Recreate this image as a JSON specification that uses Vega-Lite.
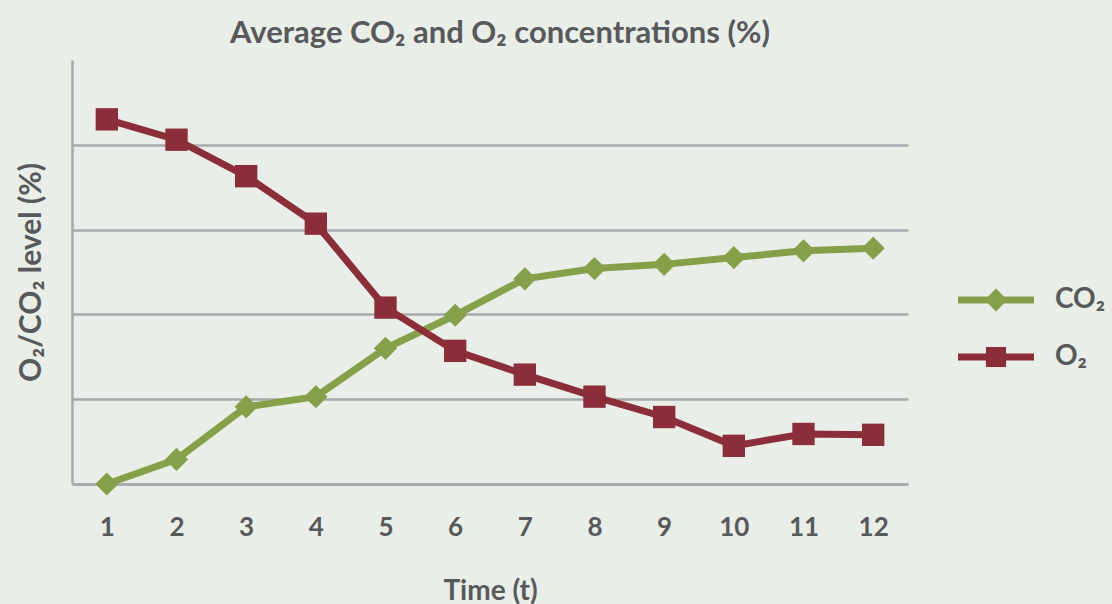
{
  "$schema": "https://vega.github.io/schema/vega-lite/v6.json",
  "width": 836,
  "height": 424,
  "autosize": "none",
  "padding": {"left": 72, "top": 60, "right": 204, "bottom": 120},
  "background": "#e9eee9",
  "title": {
    "text": "Average CO₂ and O₂ concentrations (%)",
    "anchor": "middle",
    "frame": "group",
    "dx": 10,
    "offset": 10,
    "font": "Lato",
    "fontSize": 31,
    "fontWeight": "bold",
    "color": "#58595b"
  },
  "config": {
    "view": {"stroke": null},
    "font": "Lato"
  },
  "data": {
    "values": [
      {"t": 1, "gas": "CO₂", "v": 0.0},
      {"t": 2, "gas": "CO₂", "v": 0.29},
      {"t": 3, "gas": "CO₂", "v": 0.91},
      {"t": 4, "gas": "CO₂", "v": 1.03},
      {"t": 5, "gas": "CO₂", "v": 1.6},
      {"t": 6, "gas": "CO₂", "v": 1.99},
      {"t": 7, "gas": "CO₂", "v": 2.42},
      {"t": 8, "gas": "CO₂", "v": 2.54},
      {"t": 9, "gas": "CO₂", "v": 2.59},
      {"t": 10, "gas": "CO₂", "v": 2.67},
      {"t": 11, "gas": "CO₂", "v": 2.75},
      {"t": 12, "gas": "CO₂", "v": 2.78},
      {"t": 1, "gas": "O₂", "v": 4.3},
      {"t": 2, "gas": "O₂", "v": 4.06},
      {"t": 3, "gas": "O₂", "v": 3.63},
      {"t": 4, "gas": "O₂", "v": 3.07},
      {"t": 5, "gas": "O₂", "v": 2.08},
      {"t": 6, "gas": "O₂", "v": 1.57},
      {"t": 7, "gas": "O₂", "v": 1.29},
      {"t": 8, "gas": "O₂", "v": 1.03},
      {"t": 9, "gas": "O₂", "v": 0.79},
      {"t": 10, "gas": "O₂", "v": 0.45},
      {"t": 11, "gas": "O₂", "v": 0.59},
      {"t": 12, "gas": "O₂", "v": 0.58}
    ]
  },
  "encoding": {
    "x": {
      "field": "t",
      "type": "ordinal",
      "scale": {"type": "point", "padding": 0.5},
      "axis": {
        "title": "Time (t)",
        "labelAngle": 0,
        "labelFont": "Lato",
        "labelFontSize": 26,
        "labelFontWeight": "bold",
        "labelColor": "#58595b",
        "labelPadding": 30,
        "ticks": false,
        "domainColor": "#a7a9ac",
        "domainWidth": 2.5,
        "titleFont": "Lato",
        "titleFontSize": 28,
        "titleFontWeight": "bold",
        "titleColor": "#58595b",
        "titlePadding": 37
      }
    },
    "y": {
      "field": "v",
      "type": "quantitative",
      "scale": {"domain": [0, 5], "nice": false, "zero": true},
      "axis": {
        "title": "O₂/CO₂ level  (%)",
        "values": [0, 1, 2, 3, 4],
        "labels": false,
        "ticks": false,
        "grid": true,
        "gridColor": "#a7a9ac",
        "gridWidth": 2.5,
        "domainColor": "#a7a9ac",
        "domainWidth": 2.5,
        "titleFont": "Lato",
        "titleFontSize": 30,
        "titleFontWeight": "bold",
        "titleColor": "#58595b",
        "titlePadding": 26
      }
    }
  },
  "resolve": {"scale": {"color": "independent", "shape": "independent"}, "legend": {"color": "independent", "shape": "independent"}},
  "layer": [
    {
      "mark": {"type": "line", "strokeWidth": 7},
      "encoding": {
        "color": {
          "field": "gas",
          "type": "nominal",
          "scale": {"domain": ["CO₂", "O₂"], "range": ["#86a04a", "#8b2e3a"]},
          "legend": null
        }
      }
    },
    {
      "transform": [{"filter": "datum.gas === 'CO₂'"}],
      "mark": {"type": "point", "filled": true, "opacity": 1, "shape": "diamond", "size": 540, "color": "#86a04a"}
    },
    {
      "transform": [{"filter": "datum.gas === 'O₂'"}],
      "mark": {"type": "point", "filled": true, "opacity": 1, "shape": "square", "size": 500, "color": "#8b2e3a"}
    },
    {
      "mark": {"type": "point", "filled": true, "opacity": 1, "size": 0},
      "encoding": {
        "shape": {
          "field": "gas",
          "type": "nominal",
          "scale": {
            "domain": ["CO₂", "O₂"],
            "range": [
              "M-2,-0.18H2V0.18H-2Z M0,-0.6L0.6,0L0,0.6L-0.6,0Z",
              "M-2,-0.18H2V0.18H-2Z M-0.53,-0.53H0.53V0.53H-0.53Z"
            ]
          }
        },
        "color": {
          "field": "gas",
          "type": "nominal",
          "scale": {"domain": ["CO₂", "O₂"], "range": ["#86a04a", "#8b2e3a"]},
          "legend": {
            "title": null,
            "orient": "none",
            "legendX": 905,
            "legendY": 221,
            "padding": 0,
            "symbolSize": 1444,
            "symbolStrokeWidth": 0,
            "symbolOpacity": 1,
            "rowPadding": 24,
            "labelOffset": 40,
            "labelFont": "Lato",
            "labelFontSize": 28,
            "labelFontWeight": "bold",
            "labelColor": "#58595b"
          }
        }
      }
    }
  ]
}
